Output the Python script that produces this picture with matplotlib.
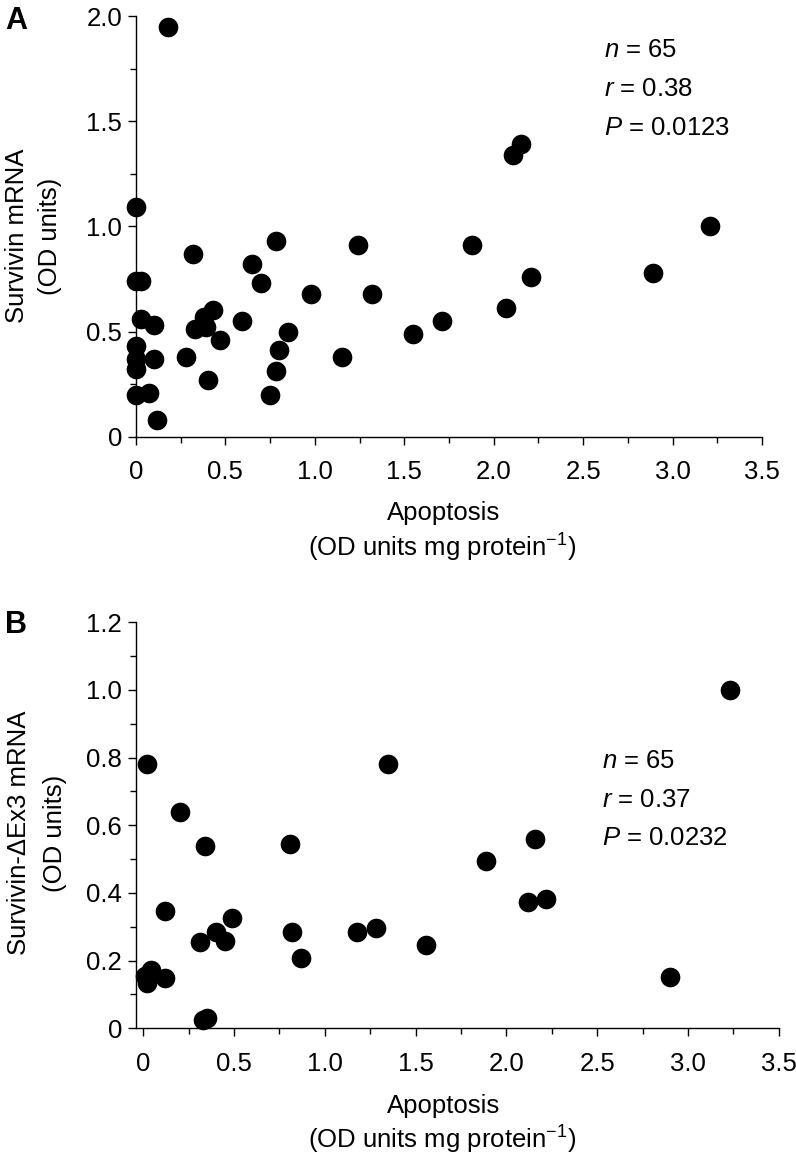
import matplotlib
matplotlib.use("Agg")
import matplotlib.pyplot as plt
from matplotlib.ticker import MultipleLocator

plt.rcParams['font.family'] = ['Liberation Sans', 'DejaVu Sans']
plt.rcParams['mathtext.fontset'] = 'custom'
plt.rcParams['mathtext.rm'] = 'Liberation Sans'
plt.rcParams['mathtext.it'] = 'Liberation Sans:italic'

# panel A: apoptosis vs survivin mRNA
apop_a = [0.18, 0.00, 0.00, 0.03, 0.03, 0.10, 0.00, 0.00, 0.10, 0.00, 0.00, 0.07,
          0.12, 0.28, 0.40, 0.32, 0.33, 0.39, 0.38, 0.43, 0.47, 0.59, 0.65, 0.70,
          0.78, 0.85, 0.80, 0.78, 0.75, 0.98, 1.15, 1.24, 1.32, 2.15, 2.11, 3.21,
          1.88, 2.89, 2.21, 2.07, 1.71, 1.55]
surv_a = [1.95, 1.09, 0.74, 0.74, 0.56, 0.53, 0.43, 0.37, 0.37, 0.32, 0.20, 0.21,
          0.08, 0.38, 0.27, 0.87, 0.51, 0.52, 0.57, 0.60, 0.46, 0.55, 0.82, 0.73,
          0.93, 0.50, 0.41, 0.31, 0.20, 0.68, 0.38, 0.91, 0.68, 1.39, 1.34, 1.00,
          0.91, 0.78, 0.76, 0.61, 0.55, 0.49]

# panel B: apoptosis vs survivin-dEx3 mRNA
apop_b = [0.02, 0.20, 0.34, 0.81, 1.35, 0.12, 0.31, 0.40, 0.45, 0.49, 0.82, 0.87,
          1.175, 1.28, 0.04, 0.02, 0.01, 0.12, 0.33, 0.35, 3.23, 2.16, 1.89, 2.12,
          2.22, 1.56, 2.90]
surv_b = [0.78, 0.64, 0.54, 0.545, 0.78, 0.347, 0.254, 0.284, 0.257, 0.327, 0.284,
          0.209, 0.284, 0.296, 0.172, 0.134, 0.155, 0.148, 0.025, 0.03, 1.00, 0.559,
          0.495, 0.372, 0.383, 0.245, 0.151]

x_ticks = [0, 0.5, 1.0, 1.5, 2.0, 2.5, 3.0, 3.5]
x_labels = ['0', '0.5', '1.0', '1.5', '2.0', '2.5', '3.0', '3.5']
ya_ticks = [0, 0.5, 1.0, 1.5, 2.0]
ya_labels = ['0', '0.5', '1.0', '1.5', '2.0']
yb_ticks = [0, 0.2, 0.4, 0.6, 0.8, 1.0, 1.2]
yb_labels = ['0', '0.2', '0.4', '0.6', '0.8', '1.0', '1.2']

stats_a = ['$\\it{n}$ = 65', '$\\it{r}$ = 0.38', '$\\it{P}$ = 0.0123']
stats_b = ['$\\it{n}$ = 65', '$\\it{r}$ = 0.37', '$\\it{P}$ = 0.0232']

W, H = 796, 1156
fig = plt.figure(figsize=(W / 100, H / 100), dpi=100)

axA = fig.add_axes([136 / W, 1 - 436.7 / H, 626 / W, 420.7 / H])
axB = fig.add_axes([136 / W, 1 - 1028.3 / H, 642.7 / W, 406 / H])

FS = 18.5


def style(ax, yt, yl, ymin_step):
    for s in ['top', 'right']:
        ax.spines[s].set_visible(False)
    for s in ['left', 'bottom']:
        ax.spines[s].set_linewidth(1.0)
    ax.set_xticks(x_ticks)
    ax.set_xticklabels(x_labels)
    ax.set_yticks(yt)
    ax.set_yticklabels(yl)
    ax.xaxis.set_minor_locator(MultipleLocator(0.25))
    ax.yaxis.set_minor_locator(MultipleLocator(ymin_step))
    ax.tick_params(which='major', length=6, width=1.0, labelsize=FS)
    ax.tick_params(which='minor', length=4.5, width=1.0)
    ax.tick_params(axis='x', which='major', pad=11)
    ax.tick_params(axis='y', which='major', pad=4)


axA.scatter(apop_a, surv_a, s=200, color='black', clip_on=False, zorder=3, linewidths=0)
axA.set_xlim(0, 3.5)
axA.set_ylim(0, 2.0)
style(axA, ya_ticks, ya_labels, 0.25)
for t, yv in zip(stats_a, [1.838, 1.651, 1.466]):
    axA.text(2.615, yv, t, fontsize=FS, ha='left', va='center')

axB.scatter(apop_b, surv_b, s=200, color='black', clip_on=False, zorder=3, linewidths=0)
axB.set_xlim(-0.04, 3.5)
axB.set_ylim(0, 1.2)
style(axB, yb_ticks, yb_labels, 0.1)
for t, yv in zip(stats_b, [0.79, 0.675, 0.562]):
    axB.text(2.525, yv, t, fontsize=FS, ha='left', va='center')

# axis titles
fig.text(17 / W, 1 - 236 / H, 'Survivin mRNA', rotation=90, fontsize=FS, ha='center', va='center')
fig.text(50 / W, 1 - 236 / H, '(OD units)', rotation=90, fontsize=FS, ha='center', va='center')
fig.text(19 / W, 1 - 833 / H, 'Survivin-\u0394Ex3 mRNA', rotation=90, fontsize=FS, ha='center', va='center')
fig.text(55 / W, 1 - 833 / H, '(OD units)', rotation=90, fontsize=FS, ha='center', va='center')

for yc1, yc2 in [(513, 548), (1106, 1140)]:
    fig.text(444 / W, 1 - yc1 / H, 'Apoptosis', fontsize=FS, ha='center', va='center')
    fig.text(442 / W, 1 - yc2 / H, '(OD units mg protein$^{-1}$)', fontsize=FS, ha='center', va='center')

fig.text(16 / W, 1 - 21 / H, 'A', fontsize=22, fontweight='bold', ha='center', va='center')
fig.text(16 / W, 1 - 625 / H, 'B', fontsize=22, fontweight='bold', ha='center', va='center')

fig.savefig('out.png', dpi=100)
